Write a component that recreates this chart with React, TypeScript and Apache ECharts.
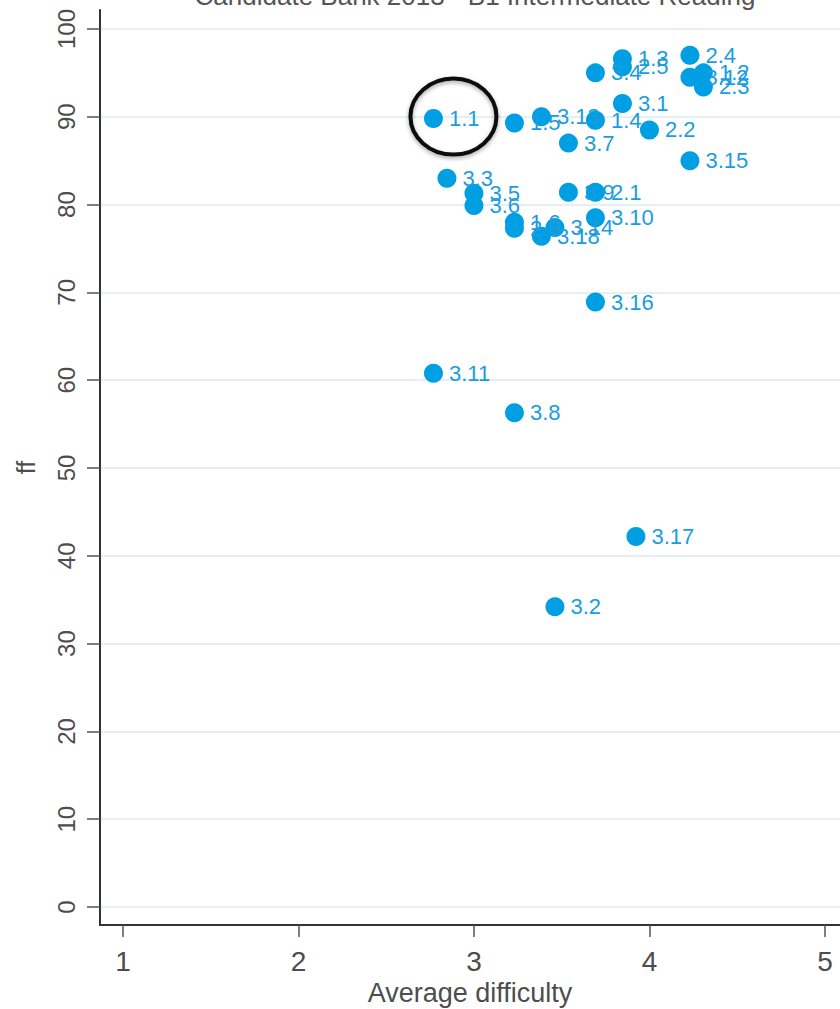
import React, { useEffect, useRef } from "react";
import * as echarts from "echarts";

const titleText = "Candidate Bank 2013 - B1 Intermediate Reading";
const xAxisTitle = "Average difficulty";
const yAxisTitle = "ff";

const itemLabels = [
  "1.3", "2.5", "3.4", "2.4", "3.12", "1.2", "2.3",
  "1.1", "1.5", "3.13", "1.4", "3.1", "2.2", "3.7", "3.15",
  "3.3", "3.5", "3.6", "3.9", "2.1", "3.10", "1.6", "2.0", "3.14", "3.18",
  "3.16", "3.11", "3.8", "3.17", "3.2",
];
const difficulty = [
  50 / 13, 50 / 13, 48 / 13, 55 / 13, 55 / 13, 56 / 13, 56 / 13,
  36 / 13, 42 / 13, 44 / 13, 48 / 13, 50 / 13, 52 / 13, 46 / 13, 55 / 13,
  37 / 13, 3.0, 3.0, 46 / 13, 48 / 13, 48 / 13, 42 / 13, 42 / 13, 45 / 13, 44 / 13,
  48 / 13, 36 / 13, 42 / 13, 51 / 13, 45 / 13,
];
const ffValues = [
  96.6, 95.7, 95.0, 97.0, 94.5, 95.0, 93.4,
  89.8, 89.3, 90.0, 89.6, 91.5, 88.5, 87.0, 85.0,
  83.0, 81.3, 79.9, 81.4, 81.4, 78.5, 78.0, 77.3, 77.4, 76.4,
  68.9, 60.8, 56.3, 42.2, 34.2,
];
const xTicks = [1, 2, 3, 4, 5];
const yTicks = [0, 10, 20, 30, 40, 50, 60, 70, 80, 90, 100];
const highlighted = "1.1";

const BLUE = "#009fe3";
const AXIS_TEXT = "#4d4d4d";
const SANS = "'Liberation Sans', Arial, sans-serif";
const NARROW = "'Liberation Sans Narrow', 'Liberation Sans', Arial, sans-serif";

export default function App() {
  const ref = useRef<HTMLDivElement>(null);
  useEffect(() => {
    if (!ref.current) return;
    const chart = echarts.init(ref.current, undefined, { renderer: "svg" });
    const data = itemLabels.map((l, i) => ({ value: [difficulty[i], ffValues[i]], name: l }));
    chart.setOption({
      animation: false,
      backgroundColor: "#ffffff",
      grid: { left: 100, right: 0, top: 10, bottom: 84, outerBoundsMode: "none", containLabel: false },
      xAxis: {
        type: "value",
        min: 0.869,
        max: 5.086,
        name: xAxisTitle,
        nameLocation: "middle",
        nameGap: 54,
        nameTextStyle: { fontSize: 27, color: AXIS_TEXT, fontFamily: NARROW },
        axisLine: { onZero: false, lineStyle: { color: "#333", width: 2 } },
        axisTick: { customValues: xTicks, length: 12, lineStyle: { color: "#555", width: 1.5 } },
        axisLabel: { customValues: xTicks, fontSize: 28, color: AXIS_TEXT, margin: 22, fontFamily: NARROW },
        splitLine: { show: false },
      },
      yAxis: {
        type: "value",
        min: -2.05,
        max: 102.16,
        name: yAxisTitle,
        nameLocation: "middle",
        nameGap: 62,
        nameRotate: 90,
        nameTextStyle: { fontSize: 25, color: AXIS_TEXT, fontFamily: SANS },
        axisLine: { onZero: false, lineStyle: { color: "#333", width: 2 } },
        axisTick: { customValues: yTicks, length: 13, lineStyle: { color: "#555", width: 1.5 } },
        axisLabel: { customValues: yTicks, rotate: 90, fontSize: 24, color: AXIS_TEXT, margin: 22, fontFamily: SANS },
        splitLine: { show: true, lineStyle: { color: "#e6eff1", width: 2 } },
      },
      series: [
        {
          type: "scatter",
          data,
          symbol: "circle",
          symbolSize: 19,
          itemStyle: { color: BLUE, opacity: 1 },
          label: {
            show: true,
            position: "right",
            distance: 6,
            formatter: (p: any) => p.name,
            color: "#1a9de0",
            fontSize: 22,
            fontFamily: SANS,
          },
          labelLayout: { hideOverlap: false },
          z: 3,
        },
      ],
    });
    const idx = itemLabels.indexOf(highlighted);
    const c = chart.convertToPixel({ gridIndex: 0 }, [difficulty[idx], ffValues[idx]]) as number[];
    chart.setOption({
      graphic: [
        {
          type: "text",
          x: 475,
          y: 9,
          style: {
            text: titleText,
            textAlign: "center",
            textVerticalAlign: "bottom",
            fontSize: 26,
            fill: "#555",
            fontFamily: SANS,
          },
        },
        {
          type: "ellipse",
          shape: { cx: c[0] + 20, cy: c[1] - 2, rx: 43, ry: 38 },
          style: {
            fill: "none",
            stroke: "#111",
            lineWidth: 4,
            shadowBlur: 4,
            shadowColor: "rgba(0,0,0,0.35)",
            shadowOffsetY: 2,
          },
          z: 10,
        },
      ],
    });
    return () => chart.dispose();
  }, []);
  return (
    <div
      ref={ref}
      style={{ position: "absolute", left: 0, top: 0, width: 840, height: 1009, background: "#fff" }}
    />
  );
}
